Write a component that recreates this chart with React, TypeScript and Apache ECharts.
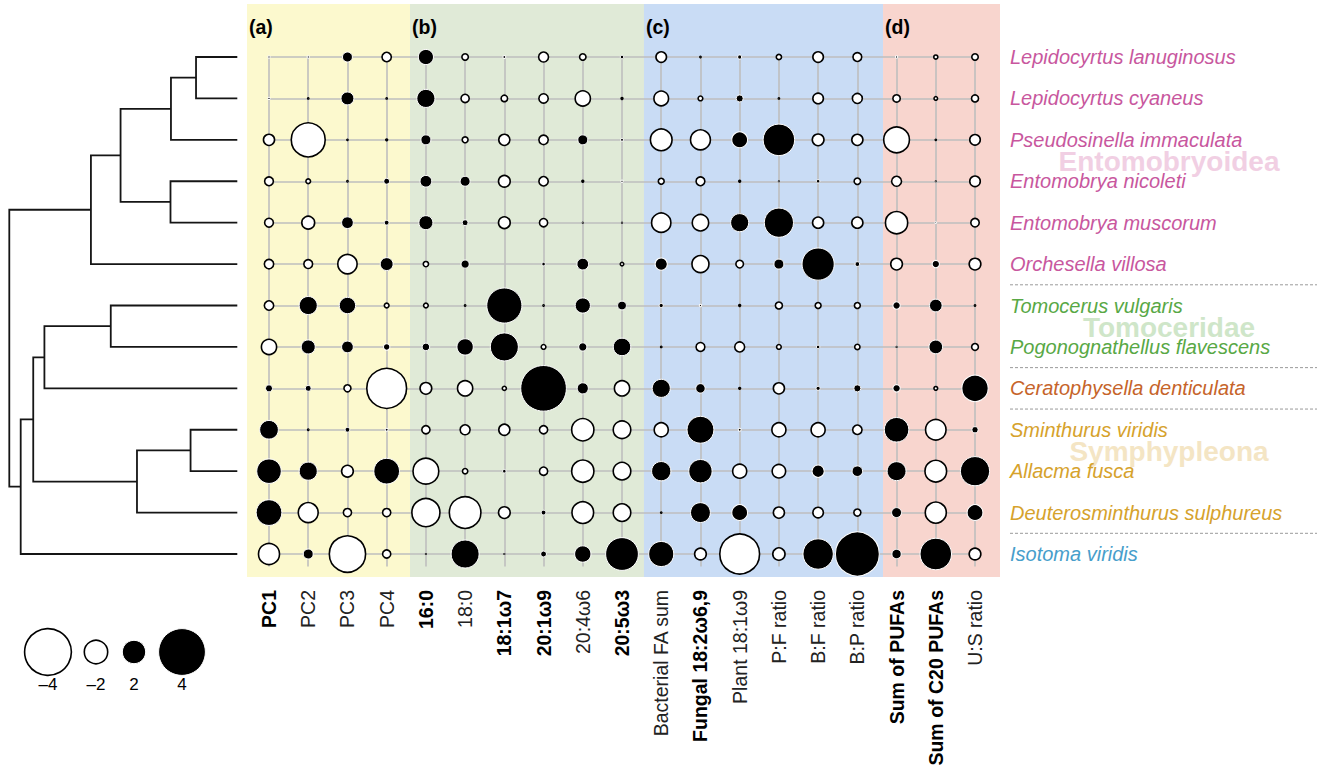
import React, { useEffect, useRef } from "react";
import * as echarts from "echarts";

// ---------- Data ----------
const species = [
  "Lepidocyrtus lanuginosus",
  "Lepidocyrtus cyaneus",
  "Pseudosinella immaculata",
  "Entomobrya nicoleti",
  "Entomobrya muscorum",
  "Orchesella villosa",
  "Tomocerus vulgaris",
  "Pogonognathellus flavescens",
  "Ceratophysella denticulata",
  "Sminthurus viridis",
  "Allacma fusca",
  "Deuterosminthurus sulphureus",
  "Isotoma viridis",
];
const speciesGroup = [0, 0, 0, 0, 0, 0, 1, 1, 2, 3, 3, 3, 4];
const groupColors = ["#C8579E", "#58A845", "#C6642A", "#D6A22C", "#479ECB"];
const groupTitles = ["Entomobryoidea", "Tomoceridae", "Symphypleona"];
const groupTitleRows = [2.5, 6.5, 9.5];
const groupTitleColors = ["#F1CFE3", "#CFE6C9", "#F4E5C4"];

const variables = [
  "PC1", "PC2", "PC3", "PC4",
  "16:0", "18:0", "18:1ω7", "20:1ω9", "20:4ω6", "20:5ω3",
  "Bacterial FA sum", "Fungal 18:2ω6,9", "Plant 18:1ω9", "P:F ratio", "B:F ratio", "B:P ratio",
  "Sum of PUFAs", "Sum of C20 PUFAs", "U:S ratio",
];
const boldVariables = [1, 0, 0, 0, 1, 0, 1, 1, 0, 1, 0, 1, 0, 0, 0, 0, 1, 1, 0];
const panelLabels = ["(a)", "(b)", "(c)", "(d)"];
const panelColors = ["#FCF9CE", "#E0EAD7", "#C9DCF5", "#F8D5CE"];

// standardised effects, one array per species (19 variables each)
const lepidocyrtusLanuginosus = [0.2, 0.2, 0.85, -0.8, 1.3, -0.55, 0.25, -0.85, -0.55, 0.3, -0.9, -0.1, 0.35, -0.45, -0.9, -0.75, 0.2, -0.35, -0.55];
const lepidocyrtusCyaneus = [0.2, -0.1, 1.1, -0.1, 1.55, -0.7, -0.55, -0.8, -1.3, -0.15, -1.25, -0.4, 0.6, -0.1, -0.9, -0.85, -0.63, -0.3, -0.6];
const pseudosinellaImmaculata = [-0.95, -2.9, -0.1, -0.15, 0.85, -0.5, -0.95, -0.8, 0.85, 0.25, -1.85, -1.7, 1.35, 2.7, -1.0, -0.95, -2.2, -0.1, -0.9];
const entomobryaNicoleti = [-0.75, -0.4, -0.1, 0.5, 1.0, 0.85, -1.0, -0.8, -0.15, 0.2, -0.5, -0.75, -0.15, -0.05, 0.3, -0.55, -0.85, -0.05, -0.9];
const entomobryaMuscorum = [-0.75, -1.1, 1.0, 0.4, 1.2, 0.5, -1.0, -0.7, -0.05, -0.05, -1.65, -1.4, 1.55, 2.5, -0.95, -0.95, -1.9, 0.15, -0.72];
const orchesellaVillosa = [-0.8, -0.75, -1.65, 1.1, -0.45, 0.7, 0, 0.3, 1.0, -0.3, 1.05, -1.45, -0.65, 0.85, 2.75, 0.4, -1.0, 0.63, -1.0];
const tomocerusVulgaris = [-0.8, 1.55, 1.4, -0.4, -0.4, -0.1, 3.0, -0.1, 1.3, 0.75, 0.35, 0.2, -0.15, -0.6, -0.5, -0.5, 0.63, 1.08, -0.1];
const pogonognathellusFlavescens = [-1.3, 1.2, 1.0, 0.55, 0.65, 1.4, 2.4, -0.4, 0.7, 1.5, -0.1, -0.75, -0.85, -0.4, 0.3, -0.45, -0.05, 1.17, -0.58];
const ceratophysellaDenticulata = [0.6, 0.5, -0.6, -3.4, -1.0, -1.3, -0.35, 3.9, 0.95, -1.3, 1.55, 0.8, -0.15, -0.95, 0.35, 0.6, 0.63, -0.32, 2.25];
const sminthurusViridis = [1.6, -0.1, 0.4, 0.25, -0.7, -0.85, -0.95, -0.7, -1.9, -1.5, -1.2, 2.3, 0.25, -1.2, -1.2, -0.8, 2.1, -1.75, 0.54];
const allacmaFusca = [2.1, 1.55, -1.0, 2.2, -2.2, -0.45, 0.3, -0.7, -1.9, -1.5, 1.65, 2.0, -1.2, -1.15, 1.05, 0.9, 1.62, -1.85, 2.5];
const deuterosminthurusSulphureus = [2.2, -1.7, -0.7, -0.7, -2.4, -2.7, -1.0, 0.4, -1.85, -1.5, -0.1, 1.7, 1.35, -0.95, -0.9, -0.6, 0.85, -1.8, 1.35];
const isotomaViridis = [-1.8, 0.85, -3.1, -0.7, -0.05, 2.4, -0.05, 0.5, 1.4, 2.8, 2.15, -1.0, -3.4, -1.05, 2.6, 3.75, 0.8, 2.7, -1.0];

const values = [
  lepidocyrtusLanuginosus, lepidocyrtusCyaneus, pseudosinellaImmaculata, entomobryaNicoleti,
  entomobryaMuscorum, orchesellaVillosa, tomocerusVulgaris, pogonognathellusFlavescens,
  ceratophysellaDenticulata, sminthurusViridis, allacmaFusca, deuterosminthurusSulphureus, isotomaViridis,
];

// dendrogram (hclust-like merge table: negative = leaf -(row+1), positive = earlier merge step)
const mergeLeft = [-1, -4, 1, 3, 4, -10, -7, 6, 7, 9, 10, 5];
const mergeRight = [-2, -5, -3, 2, -6, -11, -8, -12, -9, 8, -13, 11];
const mergeHeight = [0.181, 0.293, 0.291, 0.512, 0.642, 0.205, 0.555, 0.44, 0.846, 0.895, 0.95, 1.0];

const legendValues = [-4, -2, 2, 4];

// ---------- Layout ----------
const X_MIN = -0.561;
const X_MAX = 18.637;
const Y_MIN = -1.28;
const Y_MAX = 12.555;
const bandEdges = [X_MIN, 3.595, 9.56, 15.655, X_MAX];
const V_LINE_END = 12.3;
const legendX = [48, 96, 134, 182];
const FONT = "'Liberation Sans', Arial, sans-serif";

const sizeOf = (v: number) => Math.abs(v) * 11.7;

export default function App() {
  const ref = useRef<HTMLDivElement>(null);

  useEffect(() => {
    if (!ref.current) return;
    const chart = echarts.init(ref.current, null, { renderer: "svg" });

    const pos: any[] = [];
    const neg: any[] = [];
    values.forEach((row, r) =>
      row.forEach((v, c) => {
        if (v > 0) pos.push([c, r, v]);
        else if (v < 0) neg.push([c, r, v]);
      })
    );

    const gridLines: any[] = [];
    species.forEach((_, r) => gridLines.push({ coords: [[0, r], [variables.length - 1, r]] }));
    variables.forEach((_, c) => gridLines.push({ coords: [[c, 0], [c, V_LINE_END]] }));

    // dendrogram segments
    const nodeY: number[] = [];
    const ref2 = (k: number): [number, number] =>
      k < 0 ? [0, -k - 1] : [mergeHeight[k - 1], nodeY[k - 1]];
    const dendro: any[] = [];
    mergeLeft.forEach((l, i) => {
      const a = ref2(l);
      const b = ref2(mergeRight[i]);
      const h = mergeHeight[i];
      nodeY[i] = (a[1] + b[1]) / 2;
      dendro.push({ coords: [[a[0], a[1]], [h, a[1]], [h, b[1]], [b[0], b[1]]] });
    });

    const rich: any = {};
    groupColors.forEach((col, i) => {
      rich["g" + i] = { color: col, fontStyle: "italic", fontSize: 20, fontFamily: FONT };
    });

    chart.setOption({
      animation: false,
      grid: [
        { left: 247, right: 324, top: 4, bottom: 194 },
        { left: 9.3, right: 1324 - 237.3, top: 4, bottom: 194 },
      ],
      xAxis: [
        {
          type: "value", gridIndex: 0, min: X_MIN, max: X_MAX, position: "bottom",
          axisLine: { show: false }, axisTick: { show: false }, splitLine: { show: false },
          axisLabel: {
            customValues: variables.map((_, i) => i),
            rotate: 90, margin: 13,
            formatter: (v: number) => {
              const i = Math.round(v);
              return boldVariables[i] ? `{b|${variables[i]}}` : `{n|${variables[i]}}`;
            },
            rich: {
              b: { fontWeight: "bold", fontSize: 19.5, color: "#000", fontFamily: FONT },
              n: { fontSize: 19.5, color: "#222", fontFamily: FONT },
            },
          },
        },
        { type: "value", gridIndex: 1, min: 0, max: 1, inverse: true, show: false },
      ],
      yAxis: [
        {
          type: "value", gridIndex: 0, min: Y_MIN, max: Y_MAX, inverse: true, position: "right",
          axisLine: { show: false }, axisTick: { show: false }, splitLine: { show: false },
          axisLabel: {
            customValues: species.map((_, i) => i),
            margin: 10,
            formatter: (v: number) => {
              const i = Math.round(v);
              return `{g${speciesGroup[i]}|${species[i]}}`;
            },
            rich,
          },
        },
        { type: "value", gridIndex: 1, min: Y_MIN, max: Y_MAX, inverse: true, show: false },
      ],
      series: [
        {
          type: "custom", xAxisIndex: 0, yAxisIndex: 0, z: 0, silent: true, clip: false,
          data: panelColors.map((_, i) => [bandEdges[i], bandEdges[i + 1], i]),
          renderItem: (_p: any, api: any) => {
            const p0 = api.coord([api.value(0), Y_MIN]);
            const p1 = api.coord([api.value(1), Y_MAX]);
            return {
              type: "rect",
              shape: { x: p0[0], y: p0[1], width: p1[0] - p0[0], height: p1[1] - p0[1] },
              style: { fill: panelColors[api.value(2)] },
            };
          },
        },
        {
          type: "lines", coordinateSystem: "cartesian2d", xAxisIndex: 0, yAxisIndex: 0, z: 1, silent: true,
          lineStyle: { color: "#BEBEBE", width: 1.6, opacity: 1 },
          data: gridLines,
        },
        {
          type: "scatter", xAxisIndex: 0, yAxisIndex: 0, z: 3, silent: true,
          symbolSize: (val: number[]) => sizeOf(val[2]),
          itemStyle: { color: "#000", borderColor: "#fff", borderWidth: 1, opacity: 1 },
          data: pos,
        },
        {
          type: "scatter", xAxisIndex: 0, yAxisIndex: 0, z: 3, silent: true,
          symbolSize: (val: number[]) => sizeOf(val[2]),
          itemStyle: { color: "#fff", borderColor: "#000", borderWidth: 1.6, opacity: 1 },
          data: neg,
        },
        {
          type: "lines", coordinateSystem: "cartesian2d", xAxisIndex: 1, yAxisIndex: 1, polyline: true, silent: true,
          lineStyle: { color: "#151515", width: 1.8, opacity: 1 },
          data: dendro,
        },
      ],
    });

    // overlay elements placed through the axes' scales
    const yPix = (r: number) => chart.convertToPixel({ yAxisIndex: 0 }, r) as number;
    const xPix = (c: number) => chart.convertToPixel({ xAxisIndex: 0 }, c) as number;
    const graphic: any[] = [];

    groupTitles.forEach((t, i) => {
      graphic.push({
        type: "text", x: 1169, y: yPix(groupTitleRows[i]) + 1, z: -1, zlevel: 0,
        style: { text: t, fill: groupTitleColors[i], font: `bold 28px ${FONT}`, align: "center", verticalAlign: "middle" },
      });
    });
    for (let r = 0; r < speciesGroup.length - 1; r++) {
      if (speciesGroup[r] !== speciesGroup[r + 1]) {
        const y = yPix(r + 0.5);
        graphic.push({
          type: "line", z: 2,
          shape: { x1: 1010, y1: y, x2: 1317, y2: y },
          style: { stroke: "#9A9A9A", lineWidth: 1, lineDash: [3, 2] },
        });
      }
    }
    panelLabels.forEach((t, i) => {
      graphic.push({
        type: "text", x: xPix(bandEdges[i]) + 2, y: 27, z: 5,
        style: { text: t, fill: "#000", font: `bold 19.5px ${FONT}`, align: "left", verticalAlign: "middle" },
      });
    });
    legendValues.forEach((v, i) => {
      graphic.push({
        type: "circle", z: 5,
        shape: { cx: legendX[i], cy: 652, r: sizeOf(v) / 2 },
        style: v < 0 ? { fill: "#fff", stroke: "#000", lineWidth: 1.6 } : { fill: "#000", stroke: "#fff", lineWidth: 1 },
      });
      graphic.push({
        type: "text", x: legendX[i], y: 684, z: 5,
        style: { text: v < 0 ? `–${Math.abs(v)}` : `${v}`, fill: "#000", font: `17px ${FONT}`, align: "center", verticalAlign: "middle" },
      });
    });
    chart.setOption({ graphic });

    return () => chart.dispose();
  }, []);

  return (
    <div
      ref={ref}
      style={{ position: "absolute", left: 0, top: 0, width: 1324, height: 771, background: "#fff" }}
    />
  );
}
